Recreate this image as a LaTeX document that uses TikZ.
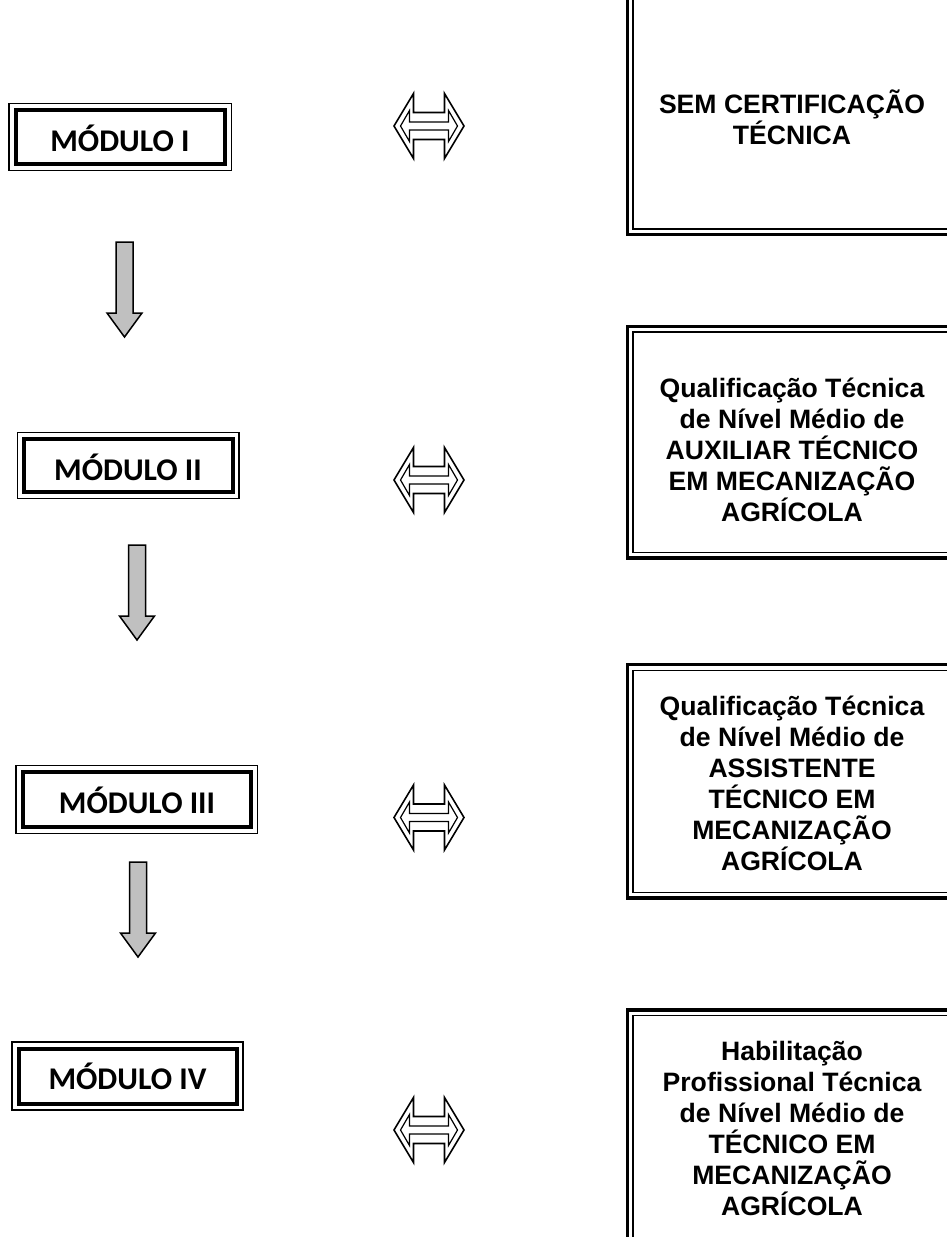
\documentclass[tikz,border=0pt]{standalone}
\usepackage{fontspec}
\newfontfamily\arialf{Liberation Sans}
\newfontfamily\carlitof{Carlito}
\definecolor{arrowgray}{HTML}{C0C0C0}
\begin{document}
\begin{tikzpicture}[x=1pt,y=-1pt,
  modtext/.style={font=\carlitof\bfseries\fontsize{31.6}{36}\selectfont, inner sep=0pt, anchor=base},
  restext/.style={font=\arialf\bfseries\fontsize{26.6}{31}\selectfont, inner sep=0pt, anchor=north, align=center},
  modouter/.style={line width=1.8pt},
  modinner/.style={line width=4pt},
  resouter/.style={line width=3.5pt},
  resinner/.style={line width=1.5pt},
  downarrow/.pic={\draw[line width=1.5pt, fill=arrowgray, line join=miter]
    (-8.5,0) -- (8.5,0) -- (8.5,71) -- (17.5,71) -- (0,95) -- (-17.5,71) -- (-8.5,71) -- cycle;},
  dblarrow/.pic={
    \draw[line width=1.6pt, line join=miter]
      (-35,0) -- (-15.5,-32.5) -- (-15.5,-13.5) -- (15.5,-13.5) -- (15.5,-32.5) -- (35,0)
      -- (15.5,32.5) -- (15.5,13.5) -- (-15.5,13.5) -- (-15.5,32.5) -- cycle;
    \draw[line width=1.2pt, line join=miter]
      (-28.5,0) -- (-19.5,-15.5) -- (-19.5,-4) -- (19.5,-4) -- (19.5,-15.5) -- (28.5,0)
      -- (19.5,15.5) -- (19.5,4) -- (-19.5,4) -- (-19.5,15.5) -- cycle;}
]
\useasboundingbox (0,0) rectangle (947,1237);
\clip (0,0) rectangle (947,1237);

% module boxes
\draw[modouter] (9,103.5) rectangle (231.5,170.5);
\draw[modinner] (15.5,110) rectangle (225,164);
\node[modtext] (m1) at (120,151) {MÓDULO I};

\draw[modouter] (17.5,432.5) rectangle (239,498.5);
\draw[modinner] (24,439) rectangle (232.5,492);
\node[modtext] (m2) at (128,480) {MÓDULO II};

\draw[modouter] (16,765.5) rectangle (257.5,833.5);
\draw[modinner] (22.5,772) rectangle (251,827);
\node[modtext] (m3) at (137,813) {MÓDULO III};

\draw[modouter] (12,1042) rectangle (243,1110);
\draw[modinner] (18.5,1048.5) rectangle (236.5,1103.5);
\node[modtext] (m4) at (127.5,1089.5) {MÓDULO IV};

% down arrows
\pic at (124.5,242) {downarrow};
\pic at (137,545) {downarrow};
\pic at (138,862) {downarrow};

% double arrows
\pic at (429,126) {dblarrow};
\pic at (429,480) {dblarrow};
\pic at (429,817.5) {dblarrow};
\pic at (429,1130) {dblarrow};

% result boxes
\draw[resouter] (627.3,-20) rectangle (970,234.5);
\draw[resinner] (633,-20) rectangle (970,229.2);
\node[restext] (r1) at (792,87.7) {\rule{0pt}{0.95em}SEM CERTIFICAÇÃO\\TÉCNICA};

\draw[resouter] (627.3,326.5) rectangle (970,558);
\draw[resinner] (633,332) rectangle (970,552.5);
\node[restext] (r2) at (792,372.2) {\rule{0pt}{0.95em}Qualificação Técnica\\de Nível Médio de\\AUXILIAR TÉCNICO\\EM MECANIZAÇÃO\\AGRÍCOLA};

\draw[resouter] (627.3,664.7) rectangle (970,898);
\draw[resinner] (633,670.3) rectangle (970,892.5);
\node[restext] (r3) at (792,690.2) {\rule{0pt}{0.95em}Qualificação Técnica\\de Nível Médio de\\ASSISTENTE\\TÉCNICO EM\\MECANIZAÇÃO\\AGRÍCOLA};

\draw[resouter] (627.3,1010) rectangle (970,1260);
\draw[resinner] (633,1015.6) rectangle (970,1260);
\node[restext] (r4) at (792,1034.7) {\rule{0pt}{0.95em}Habilitação\\Profissional Técnica\\de Nível Médio de\\TÉCNICO EM\\MECANIZAÇÃO\\AGRÍCOLA};
\end{tikzpicture}
\end{document}
